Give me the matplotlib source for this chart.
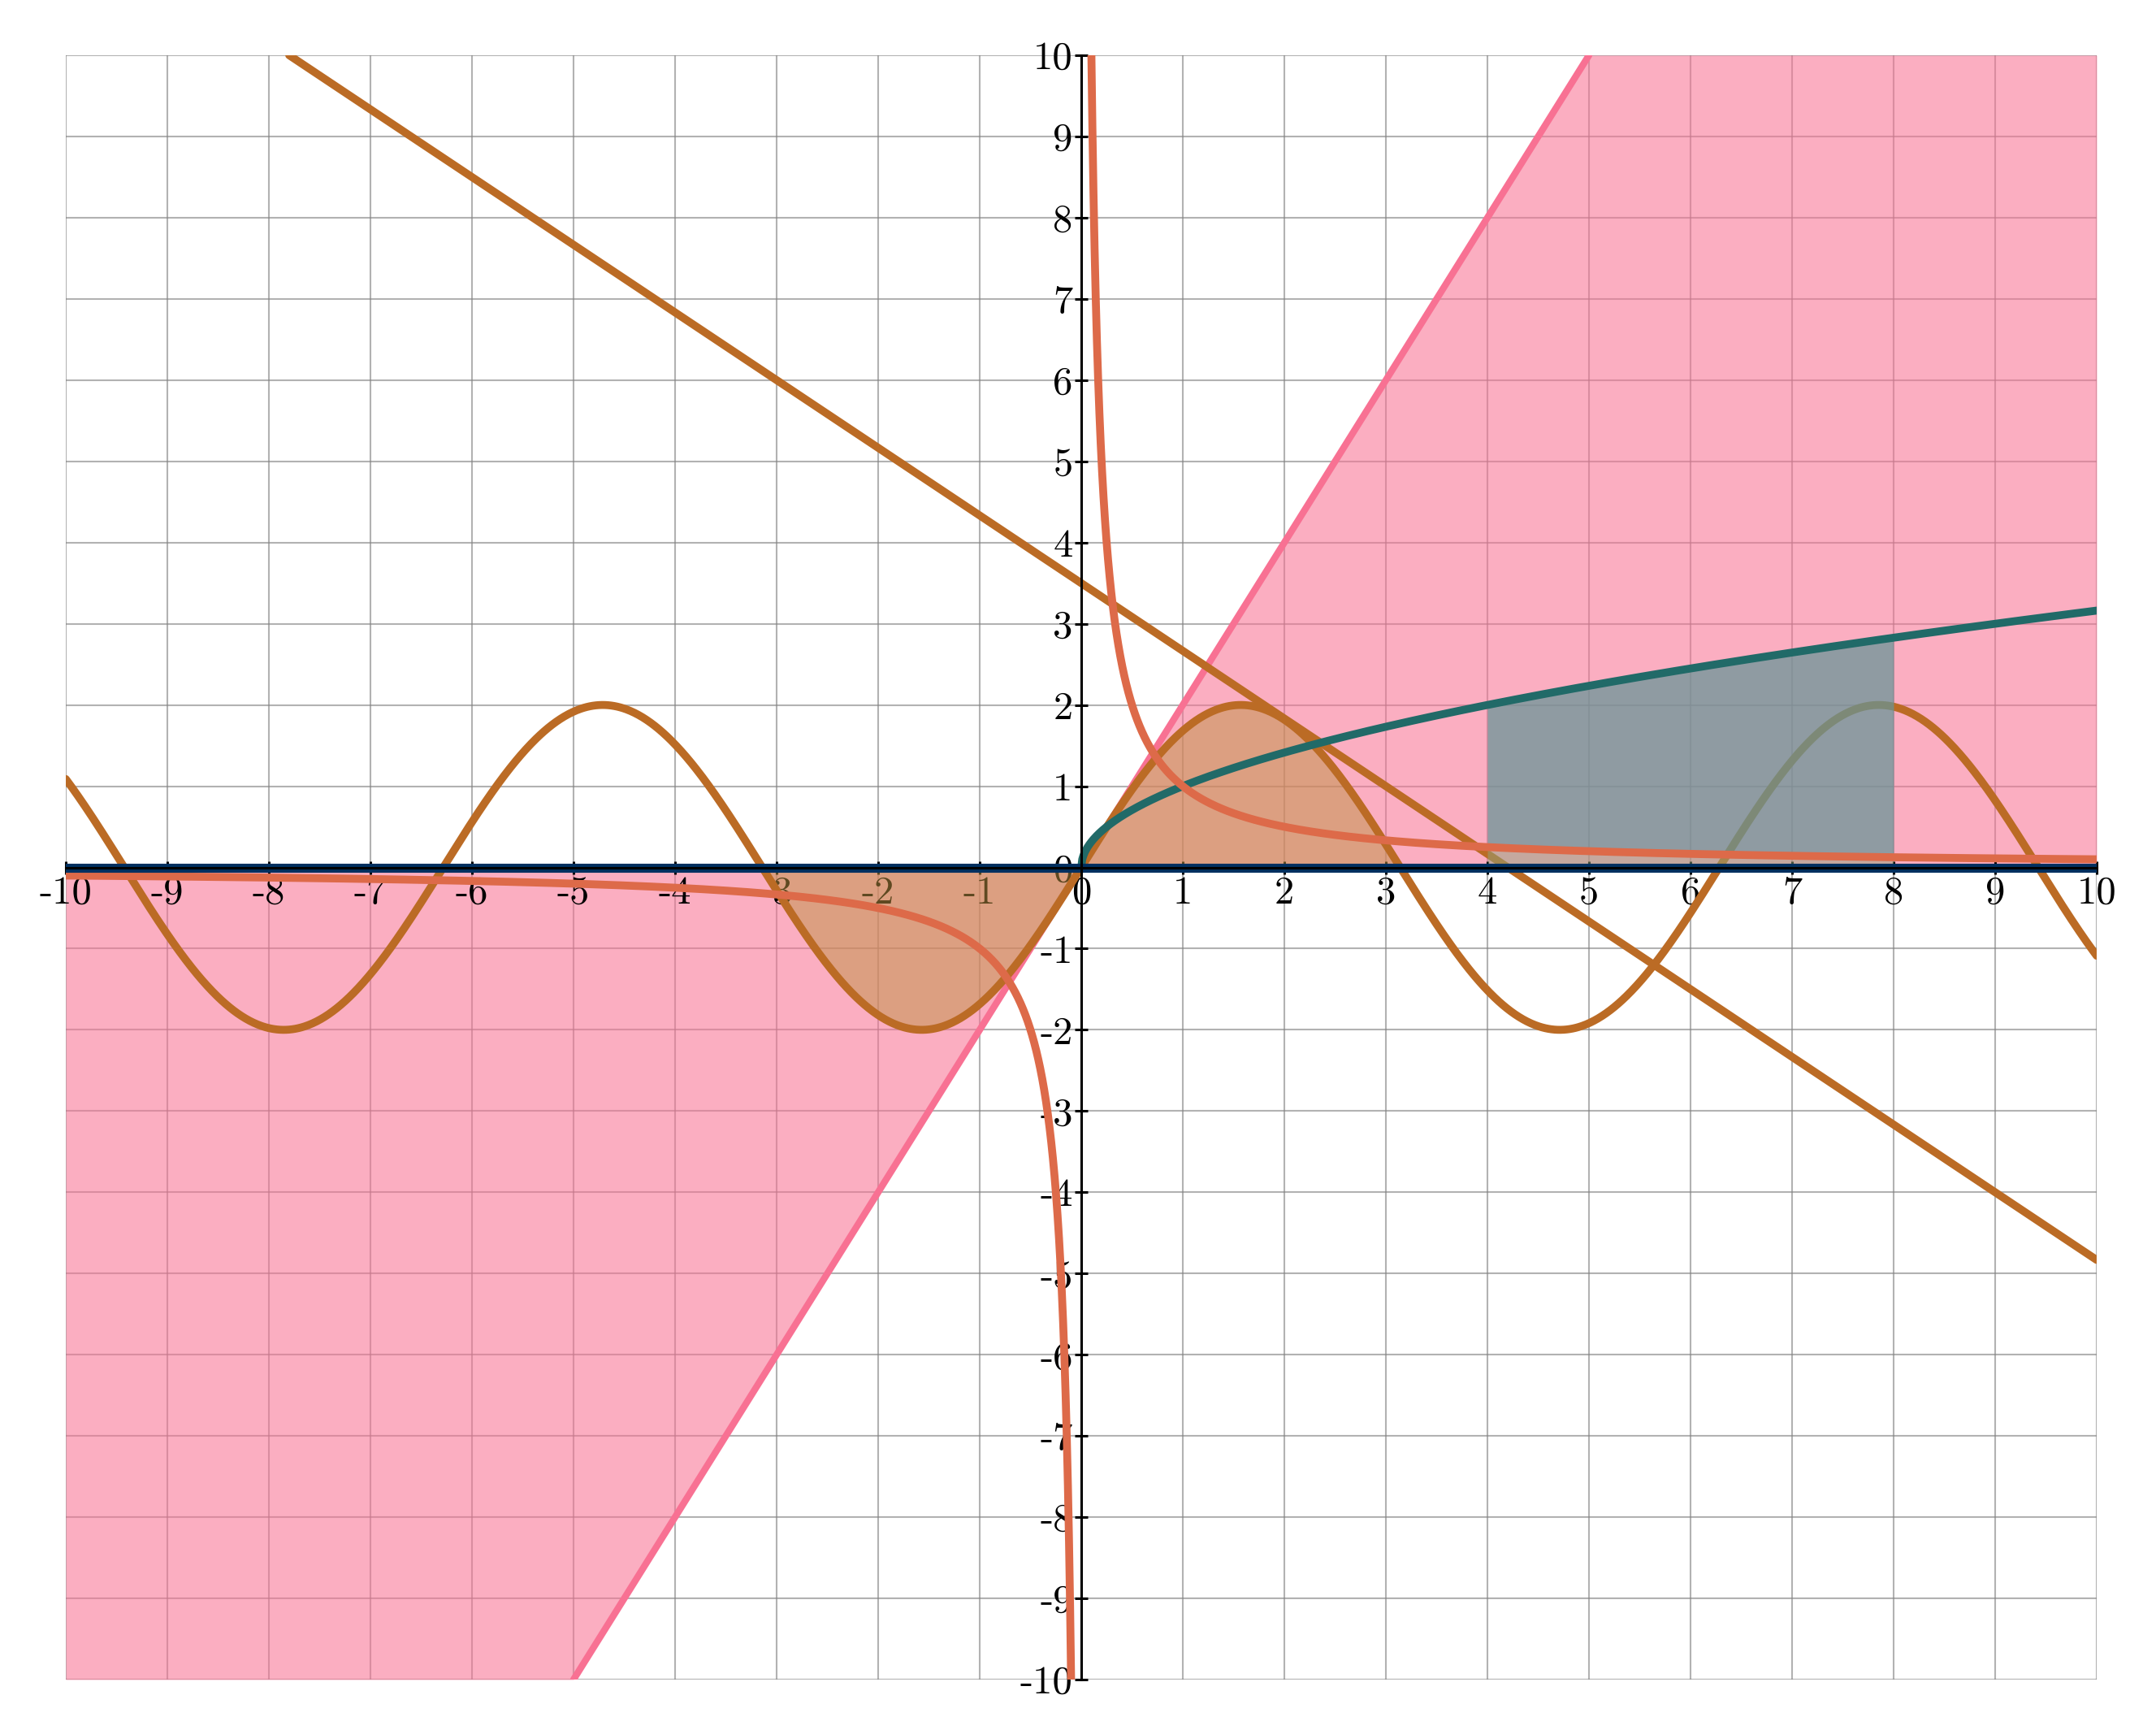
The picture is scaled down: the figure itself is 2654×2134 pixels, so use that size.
import numpy as np
import matplotlib.pyplot as plt

plt.rcParams['font.family'] = 'cmr10'
plt.rcParams['axes.unicode_minus'] = False

# axis range and ticks
x_range = [-10, 10]
y_range = [-10, 10]
ticks = list(range(-10, 11))
tick_labels = [str(t) for t in ticks]

# functions
line_slope = 2.0            # pink line y = 2x
sine_amp = 2.0              # y = 2 sin(x)
dec_slope = -5.0 / 6.0      # falling line
dec_intercept = 3.5
dec_start = -7.8
orange_fill_domain = [-np.pi, np.pi]
gray_fill_domain = [4, 8]
recip_min = 0.1

c_pink = '#f87193'
c_orange = '#bb6b25'
c_red = '#dd6a49'
c_teal = '#216a68'
c_navy = '#003060'
lw = 7

fig = plt.figure(figsize=(26.54, 21.34), dpi=100)
ax = fig.add_axes([81 / 2654, 1 - 2067 / 2134, 2500 / 2654, 1999 / 2134])
ax.set_xlim(x_range)
ax.set_ylim(y_range)

# grid
for t in ticks:
    ax.axvline(t, color='#808080', lw=1.5, alpha=0.6, zorder=0)
    ax.axhline(t, color='#808080', lw=1.5, alpha=0.6, zorder=0)

x = np.linspace(x_range[0], x_range[1], 2001)

# pink region between 0 and 2x
ax.fill_between(x, 0, np.clip(line_slope * x, -10, 10), color=c_pink, alpha=0.57, lw=0, zorder=1)

# orange region under sine
xo = np.linspace(orange_fill_domain[0], orange_fill_domain[1], 500)
ax.fill_between(xo, 0, sine_amp * np.sin(xo), color=(190 / 255, 146 / 255, 66 / 255), alpha=0.5, lw=0, zorder=2)

# pink line
xl = np.linspace(-10 / line_slope, 10 / line_slope, 200)
ax.plot(xl, line_slope * xl, color=c_pink, lw=lw - 1, solid_capstyle='round', zorder=3)

# falling line
xd = np.linspace(dec_start, x_range[1], 200)
ax.plot(xd, dec_slope * xd + dec_intercept, color=c_orange, lw=lw, solid_capstyle='round', zorder=4)

# sine
ax.plot(x, sine_amp * np.sin(x), color=c_orange, lw=lw, solid_capstyle='round', zorder=4)

# gray region under sqrt(x), split at 1/x
xg = np.linspace(gray_fill_domain[0], gray_fill_domain[1], 300)
ax.fill_between(xg, 1 / xg, np.sqrt(xg), color=(103 / 255, 149 / 255, 151 / 255), alpha=0.73, lw=0, zorder=5)
ax.fill_between(xg, 0, 1 / xg, color=(144 / 255, 164 / 255, 124 / 255), alpha=0.5, lw=0, zorder=5)

# sqrt(x)
xs = np.linspace(0, x_range[1], 1000)
ax.plot(xs, np.sqrt(xs), color=c_teal, lw=lw, solid_capstyle='round', zorder=6)

# 1/x
xr = np.geomspace(recip_min, x_range[1], 1000)
ax.plot(xr, 1 / xr, color=c_red, lw=lw, solid_capstyle='round', zorder=7)
ax.plot(-xr, -1 / xr, color=c_red, lw=lw, solid_capstyle='round', zorder=7)

# y = 0
ax.plot(x_range, [0, 0], color=c_navy, lw=lw + 1, solid_capstyle='round', zorder=8)

# axes through the origin
for s in ['top', 'right']:
    ax.spines[s].set_visible(False)
for s in ['left', 'bottom']:
    ax.spines[s].set_position('zero')
    ax.spines[s].set_linewidth(2.2)
    ax.spines[s].set_zorder(9)

ax.set_xticks(ticks)
ax.set_xticklabels(tick_labels)
ax.set_yticks(ticks)
ax.set_yticklabels(tick_labels)
ax.tick_params(direction='inout', length=11, width=2.2, labelsize=35, pad=2, zorder=9)
for lab in ax.get_xticklabels() + ax.get_yticklabels():
    lab.set_zorder(10)

fig.savefig('out.png', dpi=100)
